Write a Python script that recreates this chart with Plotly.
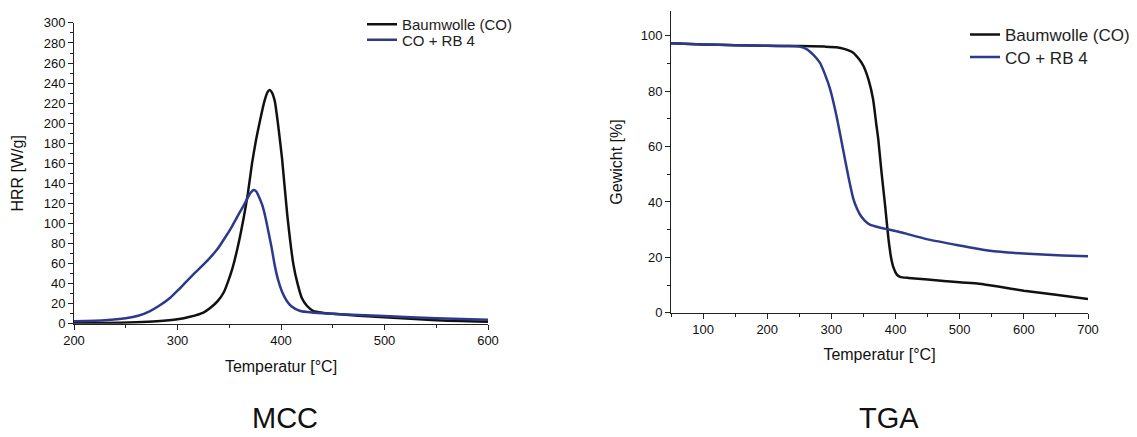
import plotly.graph_objects as go

# Browser page has an 8px body margin: the figure is drawn from (8, 8) in the screenshot
OFF = 8
W, H = 1137 - OFF, 437 - OFF

# ---------------- MCC data ----------------
mcc_co_t = [200, 230, 260, 280, 300, 312, 325, 333, 339, 345, 349, 353, 358, 364, 368, 372, 376,
            380, 384, 387, 389, 391, 394, 397, 401, 406, 412, 416, 420, 425, 431, 440, 450,
            475, 500, 550, 600]
mcc_co_hrr = [0.5, 0.8, 1.5, 2.5, 4.5, 7, 11.2, 17, 22.8, 32, 42.6, 55, 75.5, 106, 130, 160, 184,
              204, 222, 231, 233, 231, 222, 200, 165, 109, 59, 40, 26, 18, 13, 11, 10,
              8, 6.5, 3.5, 2]

mcc_rb_t = [200, 230, 250, 262, 273, 283, 293, 301, 309, 317, 325, 332, 339, 346, 352, 359, 364,
            368, 371, 373.5, 376, 379, 382, 385, 388, 391, 394, 397.4, 401, 405.5, 410, 418,
            430, 450, 475, 500, 550, 600]
mcc_rb_hrr = [2.5, 3.5, 5.5, 8, 12.5, 18.5, 26, 34, 42.6, 51, 59, 66.5, 75, 86, 96, 109, 118,
              126, 131, 133.3, 132, 126, 118, 106, 91, 75.5, 58, 43, 32, 23, 17.5, 13,
              11.2, 10, 8.8, 7.8, 5.5, 4]

# ---------------- TGA data ----------------
tga_co_t = [50, 100, 150, 200, 250, 290, 308, 320, 334, 343, 350, 358, 365, 370, 373, 378,
            383.6, 388.8, 393, 397, 402, 407, 420, 450, 500, 530, 560, 600, 650, 700]
tga_co_w = [97.2, 96.8, 96.5, 96.3, 96.2, 96.0, 95.8, 95.2, 93.8, 91.5, 89, 84, 77, 68, 62.8, 51,
            39, 27, 20, 16.2, 13.8, 13, 12.6, 12, 11, 10.5, 9.5, 8, 6.5, 5]

tga_rb_t = [50, 100, 150, 200, 230, 250, 262, 272, 282, 290, 298, 308, 318, 326, 334, 340, 345,
            352, 360, 375, 391, 410, 422, 452, 500, 536, 575, 614, 660, 700]
tga_rb_w = [97.2, 96.8, 96.5, 96.3, 96.2, 96.0, 95, 93, 90.2, 86, 80.7, 71, 59.2, 49.7, 41.3, 37.5, 35.3,
            33.3, 31.8, 30.8, 30, 29, 28.2, 26.4, 24.3, 22.8, 21.8, 21.2, 20.7, 20.4]

series_names = ["Baumwolle (CO)", "CO + RB 4"]
mcc_xticks = [200, 300, 400, 500, 600]
mcc_yticks = list(range(0, 301, 20))
tga_xticks = [100, 200, 300, 400, 500, 600, 700]
tga_yticks = [0, 20, 40, 60, 80, 100]
panel_titles = ["MCC", "TGA"]

BLACK = "#111111"
BLUE = "#2D3A8C"
FONT = "Liberation Sans, Arial, Helvetica, sans-serif"


def px_x(p):
    return (p - OFF) / W


def px_y(p):
    return min(1.0, max(0.0, 1 - (p - OFF) / H))


# TGA y-axis: 0 at screen y=312, 100 at screen y=32.7; top of plot clamped at screen y=8
tga_px_per_unit = (312 - 32.7) / 100
tga_ymax = (312 - 8) / tga_px_per_unit

fig = go.Figure()

fig.add_trace(go.Scatter(x=mcc_co_t, y=mcc_co_hrr, mode="lines", name=series_names[0],
                         line=dict(color=BLACK, width=2.5, shape="spline", smoothing=0.5),
                         xaxis="x", yaxis="y", legend="legend"))
fig.add_trace(go.Scatter(x=mcc_rb_t, y=mcc_rb_hrr, mode="lines", name=series_names[1],
                         line=dict(color=BLUE, width=2.5, shape="spline", smoothing=0.5),
                         xaxis="x", yaxis="y", legend="legend2"))
fig.add_trace(go.Scatter(x=tga_co_t, y=tga_co_w, mode="lines", name=series_names[0],
                         line=dict(color=BLACK, width=2.5, shape="spline", smoothing=0.5),
                         xaxis="x2", yaxis="y2", legend="legend3"))
fig.add_trace(go.Scatter(x=tga_rb_t, y=tga_rb_w, mode="lines", name=series_names[1],
                         line=dict(color=BLUE, width=2.5, shape="spline", smoothing=0.5),
                         xaxis="x2", yaxis="y2", legend="legend4"))

common_axis = dict(showline=True, linecolor="#222222", linewidth=1, ticks="outside", ticklen=5,
                   tickcolor="#222222", showgrid=False, zeroline=False, automargin=False,
                   tickfont=dict(family=FONT, size=13, color="#111111"))


def leg(x, top, size):
    return dict(x=(x - OFF) / W, y=1 - (top - OFF) / H, xanchor="left", yanchor="top",
                bgcolor="rgba(0,0,0,0)", font=dict(size=size, family=FONT, color="#222222"))


fig.update_layout(
    width=W, height=H,
    margin=dict(l=0, r=0, t=0, b=0),
    paper_bgcolor="white", plot_bgcolor="white",
    font=dict(family=FONT, color="#111111"),
    xaxis=dict(domain=[px_x(74), px_x(488)], range=[200, 600], anchor="y",
               tickmode="array", tickvals=mcc_xticks,
               minor=dict(ticks="outside", ticklen=3, dtick=50, tick0=200, tickcolor="#222222"),
               title=dict(text="Temperatur [°C]", font=dict(size=16, family=FONT), standoff=13),
               **common_axis),
    yaxis=dict(domain=[px_y(323), px_y(20)], range=[0, 300], anchor="x",
               tickmode="array", tickvals=mcc_yticks,
               minor=dict(ticks="outside", ticklen=3, dtick=10, tick0=0, tickcolor="#222222"),
               title=dict(text="HRR [W/g]", font=dict(size=16, family=FONT), standoff=16),
               **common_axis),
    xaxis2=dict(domain=[px_x(671), px_x(1088)], range=[50, 700], anchor="y2",
                tickmode="array", tickvals=tga_xticks,
                minor=dict(ticks="outside", ticklen=3, dtick=50, tick0=50, tickcolor="#222222"),
                title=dict(text="Temperatur [°C]", font=dict(size=16, family=FONT), standoff=12),
                **common_axis),
    yaxis2=dict(domain=[px_y(312), 1.0], range=[0, tga_ymax], anchor="x2",
                tickmode="array", tickvals=tga_yticks,
                minor=dict(ticks="outside", ticklen=3, dtick=10, tick0=0, tickcolor="#222222"),
                title=dict(text="Gewicht [%]", font=dict(size=16, family=FONT), standoff=14),
                **common_axis),
    legend=leg(362, 4.7, 15),
    legend2=leg(362, 20.5, 15),
    legend3=leg(965, 14, 17),
    legend4=leg(965, 36.7, 17),
    showlegend=True,
    annotations=[
        dict(text=panel_titles[0], x=px_x(285), y=px_y(418), xref="paper", yref="paper",
             xanchor="center", yanchor="middle", showarrow=False,
             font=dict(size=29, family=FONT, color="#111111")),
        dict(text=panel_titles[1], x=px_x(889), y=px_y(418), xref="paper", yref="paper",
             xanchor="center", yanchor="middle", showarrow=False,
             font=dict(size=29, family=FONT, color="#111111")),
    ],
)

fig.write_html("out.html")
